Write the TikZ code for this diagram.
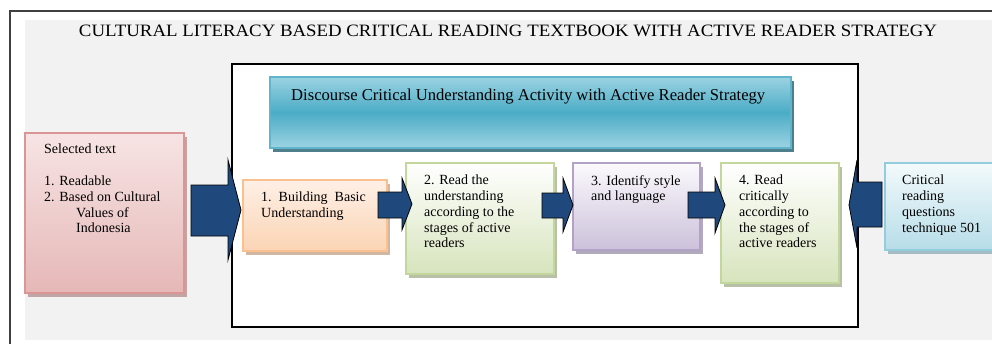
\documentclass[tikz,border=0pt]{standalone}
\usepackage{fontspec}
\setmainfont{Liberation Serif}
\usetikzlibrary{shadows}
\definecolor{bggray}{HTML}{F2F2F2}
\definecolor{arrowblue}{HTML}{1F497D}
\definecolor{hdtop}{HTML}{9CD3E2}
\definecolor{hdmid}{HTML}{4BACC6}
\definecolor{hdborder}{HTML}{5FB5CC}
\definecolor{hdshadow}{HTML}{4F7F8C}
\definecolor{pinktop}{HTML}{F7E4E4}
\definecolor{pinkbot}{HTML}{E5B8B7}
\definecolor{pinkborder}{HTML}{D99694}
\definecolor{orgtop}{HTML}{FEF0E6}
\definecolor{orgbot}{HTML}{FBD4B4}
\definecolor{orgborder}{HTML}{FAC090}
\definecolor{grntop}{HTML}{FFFFFF}
\definecolor{grnbot}{HTML}{D7E4BD}
\definecolor{grnborder}{HTML}{C3D69B}
\definecolor{purtop}{HTML}{FBFAFD}
\definecolor{purbot}{HTML}{CCC1DA}
\definecolor{purborder}{HTML}{B3A2C7}
\definecolor{blutop}{HTML}{F3FAFC}
\definecolor{blubot}{HTML}{B7DDE8}
\definecolor{bluborder}{HTML}{93CDDD}
\tikzset{
  box/.style={line width=1.5pt, inner sep=0pt, anchor=north west},
  shadowed/.style={general shadow={fill=#1, shadow xshift=3pt, shadow yshift=-4pt}},
  txt/.style={font=\fontsize{14}{15.7}\selectfont, inner sep=0pt, anchor=north west, align=left},
  blockarrow/.style={fill=arrowblue, draw=black, line width=0.8pt, line join=miter},
}
\begin{document}
\begin{tikzpicture}[x=1pt,y=-1pt]
\useasboundingbox (0,0) rectangle (992,343);
\fill[white] (0,0) rectangle (992,343);
\fill[bggray] (25,20) rectangle (992,340);
\draw[line width=2pt, black!75] (10,345) -- (10,11) -- (992,11);

\node[inner sep=0pt, anchor=base] (title) at (508,36)
  {\resizebox{858pt}{11.5pt}{\fontsize{18}{20}\selectfont CULTURAL LITERACY BASED CRITICAL READING TEXTBOOK WITH ACTIVE READER STRATEGY}};

% inner white frame
\node[draw=black, line width=1.5pt, fill=white, inner sep=0pt, anchor=north west,
      minimum width=626pt, minimum height=263pt] (frame) at (231,63) {};

% header
\node[box, draw=hdborder, shadowed=hdshadow, top color=hdtop, bottom color=hdtop, middle color=hdmid,
      minimum width=521pt, minimum height=71pt] (header) at (269,76) {};
\node[inner sep=0pt, anchor=north west] (headertxt) at (291,89)
  {\resizebox{474pt}{!}{\fontsize{15}{17}\selectfont Discourse Critical Understanding Activity with Active Reader Strategy}};

% selected text box
\node[box, draw=pinkborder, shadowed=pinkborder!70!black!60, top color=pinktop, bottom color=pinkbot,
      minimum width=159pt, minimum height=160pt] (sel) at (24,132) {};
\node[txt] (seltxt) at (44,144) {Selected text\\[16pt]1. Readable\\2. Based on Cultural\\\hspace*{32pt}Values of\\\hspace*{32pt}Indonesia};

% step boxes
\node[box, draw=orgborder, shadowed=orgborder!70!black!60, top color=orgtop, bottom color=orgbot,
      minimum width=144pt, minimum height=71pt] (s1) at (242,179) {};
\node[txt] (s1txt) at (261,192) {1.\ \ Building\ \ Basic\\Understanding};

\node[box, draw=grnborder, shadowed=grnborder!70!black!60, top color=grntop, bottom color=grnbot,
      minimum width=148pt, minimum height=111pt] (s2) at (405,162) {};
\node[txt] (s2txt) at (424,175) {2. Read the\\understanding\\according to the\\stages of active\\readers};

\node[box, draw=purborder, shadowed=purborder!70!black!60, top color=purtop, bottom color=purbot,
      minimum width=127pt, minimum height=87pt] (s3) at (572,162) {};
\node[txt] (s3txt) at (591,175) {3. Identify style\\and language};

\node[box, draw=grnborder, shadowed=grnborder!70!black!60, top color=grntop, bottom color=grnbot,
      minimum width=118pt, minimum height=120pt] (s4) at (720,162) {};
\node[txt] (s4txt) at (739,175) {4. Read\\critically\\according to\\the stages of\\active readers};

\node[box, draw=bluborder, shadowed=bluborder!70!black!60, top color=blutop, bottom color=blubot,
      minimum width=120pt, minimum height=87pt] (crit) at (884,162) {};
\node[txt] (crittxt) at (902,175) {Critical\\reading\\questions\\technique 501};

% block arrows
\draw[blockarrow] (191,185) -- (228,185) -- (228,160) -- (241,210) -- (228,260) -- (228,236) -- (191,236) -- cycle;
\draw[blockarrow] (378,192) -- (402,192) -- (402,178) -- (412,204) -- (402,230) -- (402,218) -- (378,218) -- cycle;
\draw[blockarrow] (542,193) -- (563,193) -- (563,178) -- (573,205) -- (563,232) -- (563,218) -- (542,218) -- cycle;
\draw[blockarrow] (688,192) -- (715,192) -- (715,178) -- (725,205) -- (715,233) -- (715,218) -- (688,218) -- cycle;
\draw[blockarrow] (882,182) -- (857,182) -- (857,160) -- (849,205) -- (857,248) -- (857,227) -- (882,227) -- cycle;
\end{tikzpicture}
\end{document}
